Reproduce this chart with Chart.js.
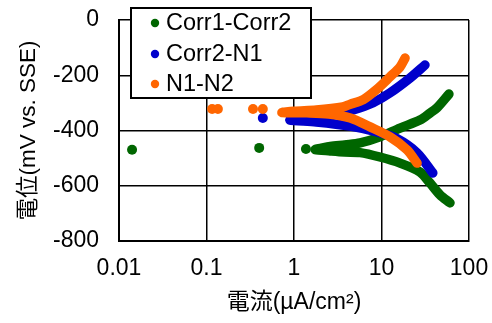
<!DOCTYPE html>
<html lang="ja">
<head>
<meta charset="UTF-8">
<title>分極曲線</title>
<script src="https://cdn.jsdelivr.net/npm/chart.js"></script>
<style>
  body { margin: 0; background: #fff; }
</style>
</head>
<body>
<canvas id="myChart" width="492" height="323"></canvas>
<script>
// series names / colours (legend order)
const seriesNames = ['Corr1-Corr2', 'Corr2-N1', 'N1-N2'];
const seriesColors = ['#006600', '#0000cc', '#ff6600'];

// loose points near the corrosion potential  [current µA/cm2, potential mV]
const corr1Dots = [[0.0141, -470], [0.40, -463], [1.37, -467]];
const corr2Dots = [[0.44, -355]];
const n1Dots = [[0.116, -322], [0.135, -322], [0.34, -322], [0.44, -322]];

// sweep curves: cathodic end first, then the anodic branch
const corr1Curve = [[60.7, -662], [46.6, -633], [35.8, -590], [27.5, -550], [16.3, -518],
  [9.6, -496], [5.7, -480], [3.8, -478], [2.6, -474], [1.75, -469],
  [2.0, -465], [2.6, -458], [3.8, -452], [5.7, -445], [9.6, -423], [16.3, -391],
  [27.5, -362], [35.8, -337], [43, -318], [59, -268]];
const corr2Curve = [[38.6, -554], [25.5, -481], [15.1, -430], [8.9, -405], [4.4, -384],
  [1.8, -369], [0.9, -362],
  [1.2, -356], [2.2, -348], [3.6, -337], [5.7, -318], [8.0, -300], [12.5, -264],
  [21.2, -210], [31.4, -163]];
const n1Curve = [[25.5, -518], [19.6, -470], [12.5, -423], [7.4, -387], [4.4, -355],
  [2.5, -340], [1.4, -336], [0.73, -335],
  [1.0, -330], [1.8, -326], [3.6, -315], [4.4, -305], [6.2, -288], [8.9, -250],
  [12.5, -206], [16.3, -170], [18.6, -138]];

const xTicks = [0.01, 0.1, 1, 10, 100];
const xTickLabels = ['0.01', '0.1', '1', '10', '100'];
const yTicks = [0, -200, -400, -600, -800];

const FONT = "'Liberation Sans', Arial, 'Noto Sans CJK JP', sans-serif";
Chart.defaults.font.family = FONT;
Chart.defaults.color = '#000';

const toXY = arr => arr.map(p => ({ x: p[0], y: p[1] }));
const dots = [corr1Dots, corr2Dots, n1Dots];
const curves = [corr1Curve, corr2Curve, n1Curve];

// later series sit on top, like the original
const datasets = [];
for (let i = 0; i < 3; i++) {
  datasets.push({
    label: seriesNames[i],
    data: toXY(dots[i]),
    showLine: false,
    pointRadius: 5,
    pointBorderWidth: 0,
    backgroundColor: seriesColors[i],
    order: 3 - i
  });
  datasets.push({
    label: seriesNames[i],
    data: toXY(curves[i]),
    showLine: true,
    tension: 0.3,
    borderWidth: 9.5,
    borderCapStyle: 'round',
    borderJoinStyle: 'round',
    borderColor: seriesColors[i],
    pointRadius: 0,
    order: 3 - i
  });
}

// boxed legend sitting over the top left of the plot
const boxLegend = {
  id: 'boxLegend',
  afterDraw(chart) {
    const ctx = chart.ctx;
    ctx.save();
    ctx.fillStyle = '#fff';
    ctx.strokeStyle = '#000';
    ctx.lineWidth = 2;
    ctx.fillRect(131, 8, 180, 90);
    ctx.strokeRect(131, 8, 180, 90);
    ctx.font = '23.5px ' + FONT;
    ctx.textBaseline = 'middle';
    const rows = [23, 54, 84];
    seriesNames.forEach((name, i) => {
      ctx.fillStyle = seriesColors[i];
      ctx.beginPath();
      ctx.arc(155, rows[i], 4.2, 0, Math.PI * 2);
      ctx.fill();
      ctx.fillStyle = '#000';
      ctx.fillText(name, 166, rows[i] + 1);
    });
    ctx.restore();
  }
};

// tick marks are invisible; their length just spaces the labels off the axis
const gridX = { color: '#000', lineWidth: 1.5, drawTicks: true, tickLength: 14, tickColor: 'rgba(0,0,0,0)' };
const gridY = { color: '#000', lineWidth: 1.5, drawTicks: true, tickLength: 20, tickColor: 'rgba(0,0,0,0)' };

new Chart(document.getElementById('myChart'), {
  type: 'scatter',
  data: { datasets: datasets },
  options: {
    responsive: false,
    animation: false,
    layout: { padding: { top: 20, right: 23, left: 0, bottom: 0 } },
    plugins: { legend: { display: false }, tooltip: { enabled: false } },
    scales: {
      x: {
        type: 'logarithmic',
        min: 0.01,
        max: 100,
        afterBuildTicks: s => { s.ticks = xTicks.map(v => ({ value: v })); },
        afterFit: s => { s.height = 82; },
        grid: gridX,
        border: { color: '#000', width: 2 },
        ticks: {
          autoSkip: false,
          maxRotation: 0,
          padding: 0,
          font: { size: 23 },
          callback: (v, i) => xTickLabels[i]
        },
        title: {
          display: true,
          text: '電流(µA/cm²)',
          font: { size: 23 },
          padding: { top: 0, bottom: 7 }
        }
      },
      y: {
        min: -800,
        max: 0,
        afterBuildTicks: s => { s.ticks = yTicks.map(v => ({ value: v })); },
        afterFit: s => { s.width = 119; },
        grid: gridY,
        border: { color: '#000', width: 2 },
        ticks: {
          padding: 0,
          font: { size: 23 },
          callback: v => String(v)
        },
        title: {
          display: true,
          text: '電位(mV vs. SSE)',
          font: { size: 22.5 },
          padding: { top: 15, bottom: 0 }
        }
      }
    }
  },
  plugins: [boxLegend]
});
</script>
</body>
</html>
